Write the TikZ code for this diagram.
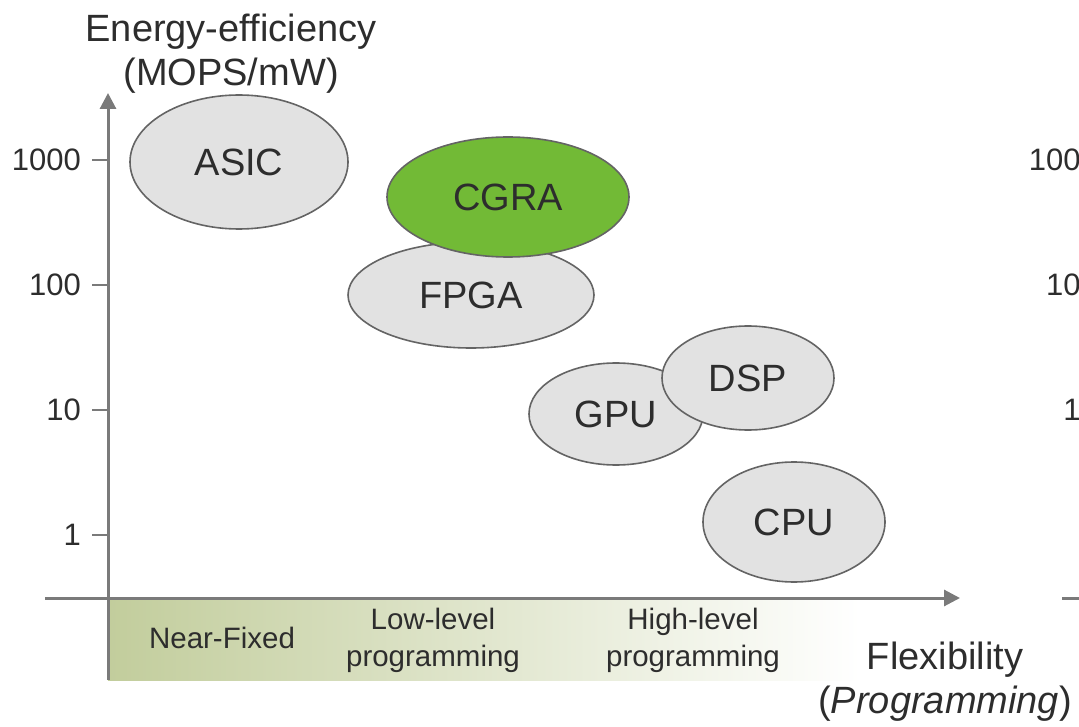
\documentclass[tikz,border=0pt]{standalone}
\usepackage{fontspec}
\setmainfont{Liberation Sans}
\usetikzlibrary{arrows.meta, shapes.geometric, positioning}
\definecolor{axisgray}{RGB}{122,122,122}
\definecolor{textgray}{RGB}{45,45,45}
\definecolor{cellgray}{RGB}{226,226,226}
\definecolor{edgegray}{RGB}{100,100,100}
\definecolor{cgragreen}{RGB}{114,186,54}
\definecolor{bandgreen}{RGB}{194,205,156}
\newcommand{\labelfont}{\fontsize{38}{44}\selectfont}
\newcommand{\tickfont}{\fontsize{31}{34}\selectfont}
\newcommand{\bandfont}{\fontsize{29.5}{37}\selectfont}

\begin{document}
\begin{tikzpicture}[x=1pt, y=-1pt, every node/.style={text=textgray, inner sep=0pt}]
    \tikzset{arch/.style={ellipse, draw=edgegray, line width=1.6pt, fill=cellgray, font=\labelfont},
             axis/.style={draw=axisgray, line width=3pt},
             tick/.style={draw=axisgray, line width=1.6pt}}
    \clip (0,0) rectangle (1079,727);
    % band below the x axis
    \shade[left color=bandgreen, right color=white] (108,600) rectangle (860,680);
    % axes
    \coordinate (O) at (108,598);
    \coordinate (Ybot) at (108,680);
    \coordinate (Ytop) at (108,93);
    \coordinate (Xleft) at (45,598);
    \coordinate (Xright) at (960,598);
    \draw[axis, -{Triangle[length=16pt, width=16pt]}] (Ybot) -- (Ytop);
    \draw[axis, -{Triangle[length=16pt, width=16pt]}] (Xleft) -- (Xright);
    \node[font=\labelfont, align=center] (yl) at (231,54) {Energy-efficiency\\(MOPS/mW)};
    % ticks
    \foreach \v/\y in {1000/160, 100/285, 10/410, 1/535} {
      \draw[tick] (92,\y) -- (108,\y);
      \node[font=\tickfont, anchor=east] (t\v) at (81,\y) {\v};
    }
    % next panel, cut off at the edge
    \foreach \v/\y in {1000/160, 100/285, 10/410, 1/535} {
      \node[font=\tickfont, anchor=east] (r\v) at (1098,\y) {\v};
    }
    \coordinate (Rx) at (1062,598);
    \coordinate (Rxe) at (1090,598);
    \draw[axis] (Rx) -- (Rxe);
    % architectures
    \node[arch, minimum width=218pt, minimum height=134pt] (asic) at (239,162) {ASIC};
    \node[arch, minimum width=246pt, minimum height=106pt] (fpga) at (471,295) {FPGA};
    \node[arch, fill=cgragreen, minimum width=242pt, minimum height=120pt] (cgra) at (508,197) {CGRA};
    \node[arch, minimum width=174pt, minimum height=102pt] (gpu) at (616,414) {\raisebox{-6pt}{GPU}};
    \node[arch, minimum width=172pt, minimum height=104pt] (dsp) at (748,378) {DSP};
    \node[arch, minimum width=182pt, minimum height=120pt] (cpu) at (794,522) {CPU};
    % band labels
    \node[font=\bandfont] (nf) at (222,638) {Near-Fixed};
    \node[font=\bandfont, align=center] (ll) at (433,640) {Low-level\\programming};
    \node[font=\bandfont, align=center] (hl) at (693,640) {High-level\\programming};
    \node[font=\labelfont, align=center] (xl) at (945,682) {Flexibility\\(\textit{Programming})};
\end{tikzpicture}
\end{document}
